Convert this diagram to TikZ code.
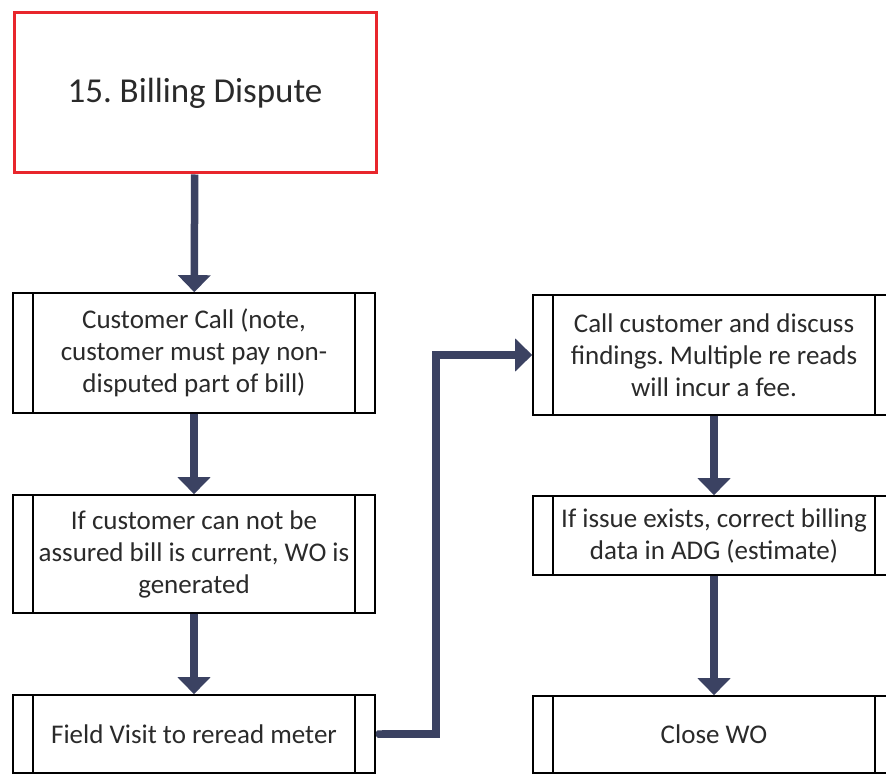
\documentclass[tikz,border=0pt]{standalone}
\usepackage{fontspec}
\setmainfont{Carlito}
\usetikzlibrary{arrows.meta}
\definecolor{flowblue}{HTML}{3B4262}
\definecolor{titlered}{HTML}{E8262C}
\definecolor{textgray}{HTML}{2A2A2A}
\frenchspacing
\begin{document}
\begin{tikzpicture}[x=1pt,y=-1pt,
  stepbox/.style={draw, line width=1.6pt, minimum width=362pt, align=center, inner sep=0pt, text=textgray, font=\fontsize{27}{32}\selectfont},
  flow/.style={draw=flowblue, line width=7.5pt, -{Triangle[width=32pt,length=17pt]}}]
\useasboundingbox (0,0) rectangle (886,775);
\clip (0,0) rectangle (886,775);
\node[draw=titlered, line width=3pt, minimum width=362pt, minimum height=160pt, text=textgray, font=\fontsize{35}{40}\selectfont] (box0) at (195,93){15. Billing Dispute};
\node[stepbox, minimum height=120pt] (box1) at (194,353){Customer Call (note,\\customer must pay non-\\disputed part of bill)};
\node[stepbox, minimum height=118pt] (box2) at (194,554){If customer can not be\\assured bill is current, WO is\\generated};
\node[stepbox, minimum height=78pt] (box3) at (194,734){Field Visit to reread meter};
\node[stepbox, minimum height=120pt] (boxA) at (714,355){Call customer and discuss\\findings. Multiple re reads\\will incur a fee.};
\node[stepbox, minimum height=79pt] (boxB) at (714,535.5){If issue exists, correct billing\\data in ADG (estimate)};
\node[stepbox, minimum height=77pt] (boxC) at (714,734.5){Close WO};
% side bars of the process boxes
\foreach \b in {box1,box2,box3,boxA,boxB,boxC}{
  \draw[line width=1.6pt] ([xshift=21pt]\b.north west) -- ([xshift=21pt]\b.south west);
  \draw[line width=1.6pt] ([xshift=-21pt]\b.north east) -- ([xshift=-21pt]\b.south east);
}
\draw[flow](box0) -- (box1);
\draw[flow](box1) -- (box2);
\draw[flow](box2) -- (box3);
\draw[flow, {Round Cap[length=2pt]}-{Triangle[width=32pt,length=17pt]}](box3.east) -- ++(60,0) |- (boxA.west);
\draw[flow](boxA) -- (boxB);
\draw[flow](boxB) -- (boxC);
\end{tikzpicture}
\end{document}
